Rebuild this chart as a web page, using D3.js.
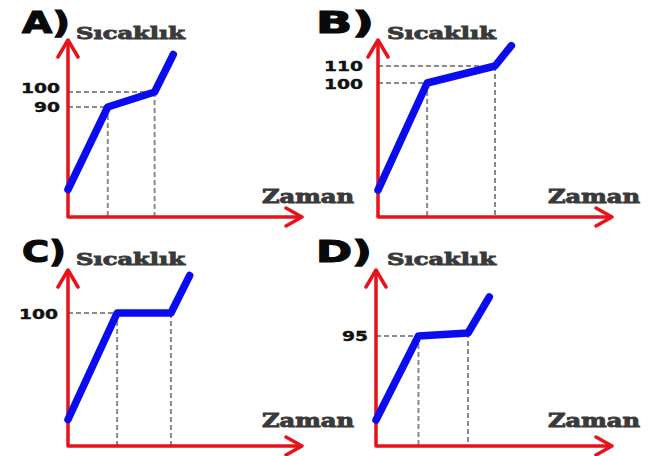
<!DOCTYPE html>
<html><head><meta charset="utf-8">
<script src="https://cdn.jsdelivr.net/npm/d3@7"></script>
<style>body{margin:0;background:#fff}svg{display:block}</style>
</head><body>
<script>
// ---- data ----
const panelNames = ["A)", "B)", "C)", "D)"];
const yTitle = "Sıcaklık";
const xTitle = "Zaman";
const timesA = [0, 17, 37, 45];
const tempsA = [35, 90, 100, 125];
const ticksA = [90, 100];
const timesB = [0, 21, 50, 57];
const tempsB = [37, 100, 110, 122];
const ticksB = [100, 110];
const timesC = [0, 21, 44, 52];
const tempsC = [29, 100, 100, 125];
const ticksC = [100];
const timesD = [0, 18, 39, 48];
const tempsD = [39, 95, 97, 121];
const ticksD = [95];

const panelsData = [
  {times: timesA, temps: tempsA, ticks: ticksA},
  {times: timesB, temps: tempsB, ticks: ticksB},
  {times: timesC, temps: tempsC, ticks: ticksC},
  {times: timesD, temps: tempsD, ticks: ticksD}
];

// ---- layout (positions only) ----
const layout = [
  {cx: 68,  cy: 217, top: 40,  tip: 302, yDom: [90, 100],  yRng: [107, 92],  pad: 8,  shift: [0, -3.5], lx: 22,  ly: 33,  lw: 48, tx: 76,  ty: 39,  zx: 262, zy: 203},
  {cx: 378, cy: 217, top: 40,  tip: 612, yDom: [100, 110], yRng: [83, 66],   pad: 15, shift: [1.5, 0.5], lx: 316, ly: 33,  lw: 58, tx: 387, ty: 39,  zx: 548, zy: 203},
  {cx: 68,  cy: 446, top: 270, tip: 302, yDom: [100, 110], yRng: [313, 298], pad: 10, shift: [1], lx: 22,  ly: 262, lw: 44, tx: 76,  ty: 265, zx: 262, zy: 427},
  {cx: 376, cy: 446, top: 270, tip: 612, yDom: [95, 105],  yRng: [336, 321], pad: 8,  shift: [0], lx: 316, ly: 262, lw: 56, tx: 387, ty: 265, zx: 548, zy: 427}
];

const W = 660, H = 456;
const RED = "#e8121b", BLUE = "#0b0bf0", GRAY = "#8a8a8a", DARK = "#3a3a3a";

const svg = d3.select("body").append("svg").attr("width", W).attr("height", H);

panelsData.forEach((p, i) => {
  const L = layout[i];
  const g = svg.append("g");
  const x = d3.scaleLinear().domain([0, 100]).range([L.cx, L.tip]);
  const y = d3.scaleLinear().domain(L.yDom).range(L.yRng);
  const pts = p.times.map((t, k) => ({t, v: p.temps[k]}));

  // guide dashes
  const bends = pts.slice(1, 3);
  const usedTicks = new Set();
  bends.forEach(b => {
    if (p.ticks.includes(b.v) && !usedTicks.has(b.v)) {
      usedTicks.add(b.v);
      g.append("line").attr("x1", L.cx).attr("x2", x(b.t))
        .attr("y1", y(b.v)).attr("y2", y(b.v))
        .attr("stroke", GRAY).attr("stroke-width", 2).attr("stroke-dasharray", "5,3");
    }
    g.append("line").attr("x1", x(b.t)).attr("x2", x(b.t))
      .attr("y1", y(b.v)).attr("y2", L.cy)
      .attr("stroke", GRAY).attr("stroke-width", 2).attr("stroke-dasharray", "5,3");
  });

  // tick labels via d3 axis
  const ax = g.append("g").attr("transform", `translate(${L.cx},0)`)
    .call(d3.axisLeft(y).tickValues(p.ticks).tickSize(0).tickPadding(L.pad).tickFormat(d3.format("d")));
  ax.select(".domain").remove();
  ax.selectAll(".tick").attr("transform", (d, k) => `translate(0,${y(d) + L.shift[k]})`);
  ax.selectAll("text")
    .attr("font-family", "DejaVu Sans").attr("font-weight", "bold").attr("font-size", 14.5)
    .attr("fill", "#111").attr("stroke", "#111").attr("stroke-width", 0.4)
    .each(function(d){ d3.select(this).attr("textLength", String(d).length * 13).attr("lengthAdjust", "spacingAndGlyphs"); });

  // red axes with arrowheads
  const axisPath = d3.path();
  axisPath.moveTo(L.cx, L.top); axisPath.lineTo(L.cx, L.cy); axisPath.lineTo(L.tip, L.cy);
  g.append("path").attr("d", axisPath.toString()).attr("fill", "none")
    .attr("stroke", RED).attr("stroke-width", 3.5).attr("stroke-linejoin", "round");
  const ah = d3.path();
  ah.moveTo(L.cx - 10, L.top + 17); ah.lineTo(L.cx, L.top); ah.lineTo(L.cx + 10, L.top + 17);
  ah.moveTo(L.tip - 16, L.cy - 9); ah.lineTo(L.tip, L.cy); ah.lineTo(L.tip - 16, L.cy + 9);
  g.append("path").attr("d", ah.toString()).attr("fill", "none")
    .attr("stroke", RED).attr("stroke-width", 3.5).attr("stroke-linecap", "round").attr("stroke-linejoin", "round");

  // blue line
  const line = d3.line().x(d => x(d.t)).y(d => y(d.v));
  g.append("path").datum(pts).attr("d", line).attr("fill", "none")
    .attr("stroke", BLUE).attr("stroke-width", 7.5).attr("stroke-linecap", "round").attr("stroke-linejoin", "round");

  // texts
  g.append("text").attr("x", L.lx).attr("y", L.ly).text(panelNames[i])
    .attr("font-family", "DejaVu Sans").attr("font-weight", "bold").attr("font-size", 31)
    .attr("fill", "#0a0a0a").attr("stroke", "#0a0a0a").attr("stroke-width", 1.2)
    .attr("textLength", L.lw).attr("lengthAdjust", "spacingAndGlyphs");
  g.append("text").attr("x", L.tx).attr("y", L.ty).text(yTitle)
    .attr("font-family", "DejaVu Serif").attr("font-weight", "bold").attr("font-size", 17)
    .attr("fill", DARK).attr("stroke", DARK).attr("stroke-width", 0.9)
    .attr("textLength", 109).attr("lengthAdjust", "spacingAndGlyphs");
  g.append("text").attr("x", L.zx).attr("y", L.zy).text(xTitle)
    .attr("font-family", "DejaVu Serif").attr("font-weight", "bold").attr("font-size", 18)
    .attr("fill", DARK).attr("stroke", DARK).attr("stroke-width", 0.9)
    .attr("textLength", 92).attr("lengthAdjust", "spacingAndGlyphs");
});
</script>
</body></html>
